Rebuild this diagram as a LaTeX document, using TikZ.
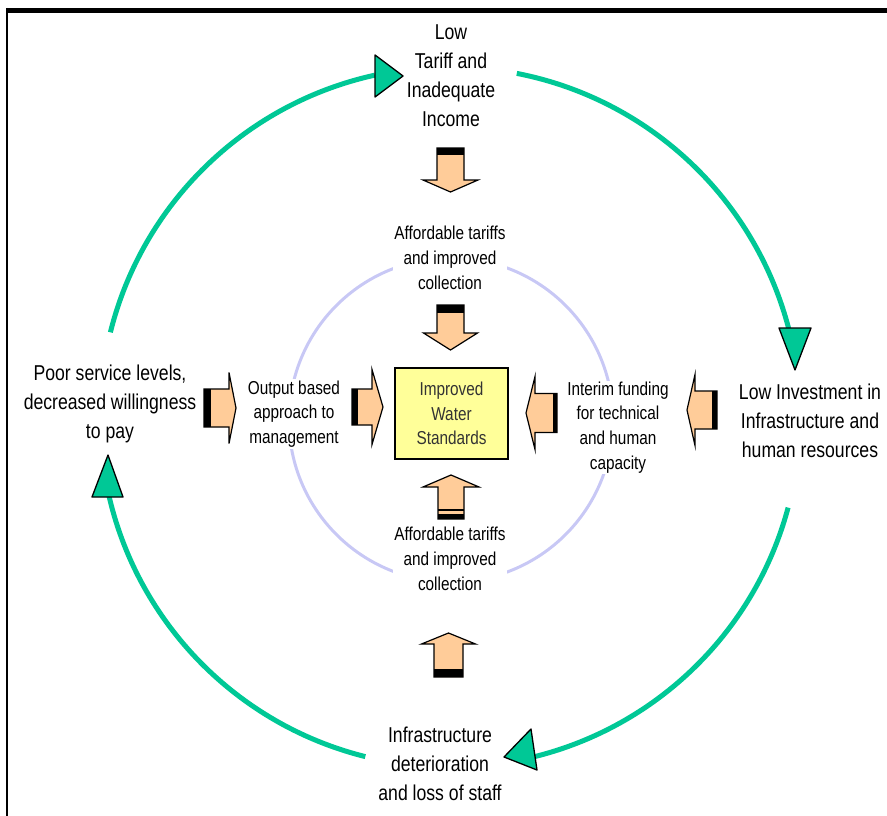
\documentclass[tikz,border=0pt]{standalone}
\usepackage{fontspec}
\setmainfont{Liberation Sans}[FakeStretch=0.82]
\definecolor{cycgreen}{RGB}{0,200,150}
\definecolor{ringblue}{RGB}{200,200,245}
\definecolor{arrowfill}{RGB}{255,204,153}
\definecolor{boxyellow}{RGB}{255,255,153}
\definecolor{boxtext}{RGB}{51,51,51}
\newcommand\BArrowX[8]{%
  \begin{scope}[shift={(#1,#2)}, rotate=#3]
    \draw[barrow] (0,-#5) -- ({#4-#7},-#5) -- ({#4-#7},-#6) -- (#4,0) -- ({#4-#7},#6) -- ({#4-#7},#5) -- (0,#5) -- cycle;
    \fill (0,-#5) rectangle (#8,#5);
  \end{scope}}
\begin{document}
\begin{tikzpicture}[x=1pt,y=-1pt,
  big/.style={font=\fontsize{21.5}{29}\selectfont, align=center, inner sep=1pt},
  small/.style={font=\fontsize{18.7}{24.8}\selectfont, align=center, fill=white, inner sep=1pt},
  cyc/.style={draw=cycgreen, line width=5pt},
  tri/.style={fill=cycgreen, draw=black, line width=1.3pt, line join=round},
  ring/.style={draw=ringblue, line width=3pt},
  barrow/.style={fill=arrowfill, draw=black, line width=1.2pt, line join=miter},
  stdbox/.style={draw=black, line width=1.5pt, fill=boxyellow, minimum width=113pt, minimum height=91pt, align=center, text=boxtext, font=\fontsize{18.7}{24.8}\selectfont, inner sep=0pt}
]
\useasboundingbox (0,0) rectangle (887,816);
% frame
\fill[black] (7,8) rectangle (887,13);
\draw[line width=2pt] (7,8) -- (7,816);

% inner lavender ring
\coordinate (rc) at (451,420);
\draw[ring] (rc) circle[radius=162pt];

% outer cycle
\coordinate (a1) at (110.4,332.3);
\coordinate (a2) at (516.8,73.4);
\coordinate (a3) at (788.1,507.6);
\coordinate (a4) at (365.3,756.6);
\draw[cyc] (a1) arc[start angle=166, end angle=102.4, radius=350pt];
\draw[cyc] (a2) arc[start angle=79, end angle=13, radius=350pt];
\draw[cyc] (a3) arc[start angle=-15, end angle=-76, radius=350pt];
\draw[cyc] (a4) arc[start angle=-104, end angle=-167, radius=350pt];
\filldraw[tri] (375,55) -- (375,97) -- (403,76) -- cycle;
\filldraw[tri] (779,328) -- (811,328) -- (795,370) -- cycle;
\filldraw[tri] (504,757) -- (531,729) -- (537,770) -- cycle;
\filldraw[tri] (108,455) -- (92,497) -- (123,497) -- cycle;

% main labels
\node[big] (top) at (451,75.5) {Low\\Tariff and\\Inadequate\\Income};
\node[big] (right) at (810,421) {Low Investment in\\Infrastructure and\\human resources};
\node[big] (bottom) at (440,764) {Infrastructure\\deterioration\\and loss of staff};
\node[big] (left) at (110,404) {Poor service levels,\\decreased willingness\\to pay};

% inner labels
\node[small] (aft) at (450,258) {Affordable tariffs\\and improved\\collection};
\node[small] (afb) at (450,559) {Affordable tariffs\\and improved\\collection};
\node[small] (obm) at (294,414) {Output based\\approach to\\management};
\node[small] (itf) at (618,427.5) {Interim funding\\for technical\\and human\\capacity};

\node[stdbox] (std) at (451.5,413.5) {Improved\\Water\\Standards};

% block arrows
\BArrowX{450.5}{148}{-90}{44}{13.5}{27.5}{12}{7}
\BArrowX{450.5}{305}{-90}{45}{13.5}{27}{17}{8}
\BArrowX{451}{519}{90}{44}{13}{28}{12}{5}
\draw[line width=1.5pt] (438,510) -- (464,510);
\BArrowX{448.5}{677}{90}{44}{14.5}{27}{11}{8}
\BArrowX{204}{408}{0}{32}{19}{35.5}{7}{7}
\BArrowX{352}{407}{0}{31}{18}{37.5}{11}{6}
\BArrowX{557}{413}{180}{31}{19.5}{36.5}{9}{4}
\BArrowX{717}{410}{180}{30}{19}{35.5}{8}{5}
\end{tikzpicture}
\end{document}
